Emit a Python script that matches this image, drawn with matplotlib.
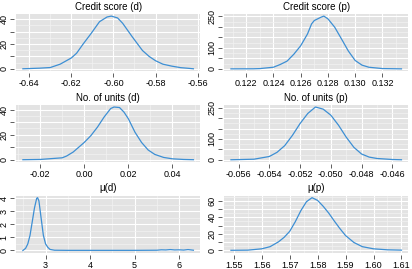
import matplotlib.pyplot as plt
from matplotlib.ticker import MultipleLocator

plt.rcParams['font.family'] = ['Liberation Sans', 'DejaVu Sans']

# Curvas de densidade
cs_d_x = [-0.643, -0.635, -0.630, -0.6253, -0.620, -0.6175, -0.6144, -0.6106, -0.6066,
          -0.603, -0.601, -0.598, -0.5956, -0.591, -0.5862, -0.583, -0.580, -0.5765,
          -0.5722, -0.568, -0.5645, -0.562]
cs_d_y = [0.1, 0.6, 1.1, 3.8, 8.8, 12.6, 20.0, 28.5, 38.0, 41.8, 42.5, 41.0, 36.7,
          25.7, 14.8, 10.0, 6.6, 3.8, 2.2, 1.0, 0.5, 0.1]

cs_p_x = [0.12088, 0.1225, 0.123, 0.124, 0.1245, 0.125, 0.1255, 0.126, 0.1265, 0.1268,
          0.127, 0.1275, 0.1277, 0.128, 0.1285, 0.129, 0.1295, 0.130, 0.1305, 0.131,
          0.132, 0.1334]
cs_p_y = [0.2, 0.5, 1.5, 8, 21, 37, 70, 110, 166, 214, 230, 246, 251, 238, 198, 142,
          85, 40, 18, 8, 1.6, 0.2]

nu_d_x = [-0.0278, -0.02, -0.01, -0.008, -0.005, 0.0, 0.003, 0.006, 0.009, 0.012,
          0.0135, 0.016, 0.018, 0.020, 0.023, 0.026, 0.029, 0.032, 0.036, 0.040,
          0.045, 0.0495]
nu_d_y = [0.1, 0.3, 1.6, 3.0, 6.2, 13.8, 19.2, 26.0, 34.0, 40.8, 42.0, 41.6, 38.0,
          32.7, 22.0, 13.8, 7.8, 4.3, 1.9, 0.8, 0.3, 0.1]

nu_p_x = [-0.0565, -0.055, -0.054, -0.0535, -0.053, -0.0525, -0.052, -0.0515, -0.051,
          -0.0505, -0.050, -0.0495, -0.049, -0.0485, -0.048, -0.0475, -0.047, -0.046,
          -0.0454]
nu_p_y = [0.3, 3, 16, 36, 68, 117, 174, 222, 253, 243, 214, 166, 109, 60, 28, 13, 6.5,
          1.6, 0.3]

mu_d_x = [2.49, 2.55, 2.60, 2.65, 2.70, 2.75, 2.80, 2.82, 2.85, 2.90, 2.95, 3.00, 3.05,
          3.10, 3.2, 3.5, 4.0, 4.5, 5.0, 5.5, 5.6, 5.7, 5.8, 5.9, 6.0, 6.1, 6.2, 6.32]
mu_d_y = [0.0, 0.16, 0.5, 1.16, 2.2, 3.26, 4.0, 4.05, 3.8, 2.47, 1.16, 0.5, 0.24, 0.08,
          0.02, 0.01, 0.01, 0.01, 0.01, 0.02, 0.05, 0.04, 0.07, 0.04, 0.05, 0.03, 0.07,
          0.02]

mu_p_x = [1.549, 1.555, 1.560, 1.563, 1.566, 1.568, 1.570, 1.572, 1.574, 1.576, 1.578,
          1.580, 1.582, 1.584, 1.586, 1.588, 1.590, 1.593, 1.596, 1.600, 1.605, 1.610]
mu_p_y = [0.2, 0.4, 2.0, 4.6, 10.4, 15.8, 23.0, 34.6, 48.0, 58.8, 63.7, 60.4, 53.3,
          45.0, 35.4, 26.3, 18.0, 9.6, 4.6, 2.0, 0.8, 0.4]

titles = ['Credit score (d)', 'Credit score (p)', 'No. of units (d)',
          'No. of units (p)', 'μ(d)', 'μ(p)']
series = [(cs_d_x, cs_d_y), (cs_p_x, cs_p_y), (nu_d_x, nu_d_y),
          (nu_p_x, nu_p_y), (mu_d_x, mu_d_y), (mu_p_x, mu_p_y)]
x_steps = [0.02, 0.002, 0.02, 0.002, 1, 0.01]
x_fmt = ['%.2f', '%.3f', '%.2f', '%.3f', '%d', '%.2f']
y_ticks = [[0, 10, 20, 30, 40], [0, 50, 100, 150, 200, 250], [0, 10, 20, 30, 40],
           [0, 50, 100, 150, 200, 250], [0, 1, 2, 3, 4], [0, 10, 20, 30, 40, 50, 60]]
y_labels = [['0', '', '20', '', '40'], ['0', '', '100', '', '', '250'],
            ['0', '', '20', '', '40'], ['0', '', '100', '', '', '250'],
            ['0', '1', '2', '3', '4'], ['0', '', '20', '', '40', '', '60']]

fig = plt.figure(figsize=(4.12, 2.69), dpi=100)
lefts = [0.039, 0.544]
bottoms = [0.736, 0.398, 0.061]
w, h = 0.447, 0.212

for i, (xs, ys) in enumerate(series):
    ax = fig.add_axes([lefts[i % 2], bottoms[i // 2], w, h])
    # eixos afastados do painel, como no R (antes de definir os ticks)
    for s in ax.spines.values():
        s.set_visible(False)
    ax.spines['left'].set_position(('outward', 1.5))
    ax.spines['bottom'].set_position(('outward', 1.5))

    ax.set_facecolor('#e3e3e3')
    ax.plot(xs, ys, color='#3d8fd4', lw=0.9)
    xr = max(xs) - min(xs)
    ax.set_xlim(min(xs) - 0.04 * xr, max(xs) + 0.04 * xr)
    top = max(ys)
    ax.set_ylim(-0.04 * top, 1.04 * top)

    ax.xaxis.set_major_locator(MultipleLocator(x_steps[i]))
    ax.xaxis.set_minor_locator(MultipleLocator(x_steps[i] / 2))
    ax.xaxis.set_major_formatter(plt.FormatStrFormatter(x_fmt[i]))
    ax.set_yticks(y_ticks[i])
    ax.set_yticklabels(y_labels[i], rotation=90, va='center')
    step = y_ticks[i][1] - y_ticks[i][0]
    ax.yaxis.set_minor_locator(MultipleLocator(step / 2))

    ax.grid(which='major', color='white', lw=0.8)
    ax.grid(which='minor', color='#f2f2f2', lw=0.5)
    ax.set_axisbelow(True)
    ax.tick_params(which='major', length=3, width=0.6, color='#444444',
                   labelsize=6.5, pad=1.5)
    ax.tick_params(which='minor', length=0)
    ax.tick_params(axis='y', pad=1)
    ax.set_title(titles[i], fontsize=7, pad=3)

fig.savefig('out.png', dpi=100)
